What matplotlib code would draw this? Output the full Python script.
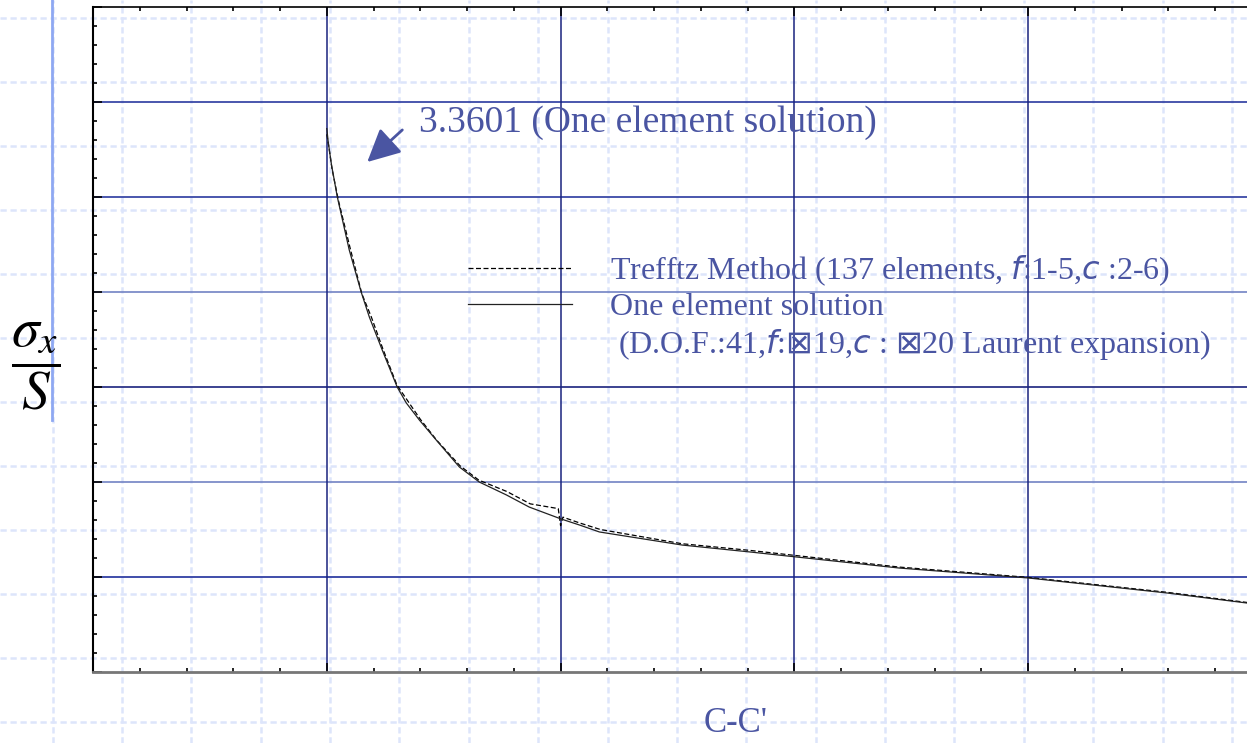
import numpy as np
import matplotlib.pyplot as plt
from matplotlib.lines import Line2D
from matplotlib.ticker import MultipleLocator

# Curve data (x along C-C', y = sigma_x / S)
x_one = [1.0, 1.006, 1.02, 1.045, 1.096, 1.147, 1.182, 1.237, 1.301, 1.34, 1.396,
         1.468, 1.567, 1.652, 1.768, 1.866, 2.003, 2.08, 2.166, 2.521, 2.808,
         3.45, 4.0, 4.593, 4.936]
y_one = [3.36, 3.29, 3.17, 3.0, 2.721, 2.5, 2.368, 2.195, 2.0, 1.916, 1.826,
         1.721, 1.579, 1.5, 1.432, 1.368, 1.305, 1.274, 1.237, 1.168, 1.132,
         1.047, 0.995, 0.916, 0.863]

x_trefftz = [1.0, 1.008, 1.022, 1.05, 1.1, 1.15, 1.19, 1.24, 1.30, 1.35, 1.40,
             1.47, 1.57, 1.65, 1.77, 1.87, 1.99, 2.0, 2.01, 2.08, 2.17, 2.52,
             2.81, 3.45, 4.0, 4.59, 4.936]
y_trefftz = [3.33, 3.27, 3.15, 2.98, 2.73, 2.49, 2.37, 2.20, 2.01, 1.92, 1.83,
             1.72, 1.585, 1.51, 1.45, 1.385, 1.36, 1.27, 1.315, 1.285, 1.25, 1.175,
             1.14, 1.052, 0.998, 0.92, 0.866]

hgrid = [1.0, 1.5, 2.0, 2.5, 3.0, 3.5]
hgrid_colors = ['#1f2f9c', '#7283c4', '#1a237e', '#7283c4', '#2a3aa0', '#2a3aa0']
vgrid = [1, 2, 3, 4]

txt_color = '#4a55a2'
serif = 'Liberation Serif'

fig = plt.figure(figsize=(12.47, 7.43), dpi=100)

# slide background: light dashed grid + blue bar on the left
bg = fig.add_axes([0, 0, 1, 1])
bg.set_xlim(0, 1247)
bg.set_ylim(743, 0)
bg.axis('off')
for xv in np.arange(52.6, 1247, 69.375):
    bg.axvline(xv, color='#dde5fb', lw=1.8, ls=(0, (2.5, 1.5)))
for yv in np.arange(18, 743, 64):
    bg.axhline(yv, color='#dde5fb', lw=1.8, ls=(0, (2.5, 1.5)))
bg.plot([52, 52], [0, 420], color='#8ea8f2', lw=2)

# main plot (right side runs past the edge of the figure)
ax = fig.add_axes([93 / 1247, 71 / 743, 1169 / 1247, 665 / 743])
ax.set_zorder(2)
ax.patch.set_visible(False)
ax.set_xlim(0, 5)
ax.set_ylim(0.5, 4.0)

for yv, c in zip(hgrid, hgrid_colors):
    ax.axhline(yv, color=c, lw=1.2, zorder=1)
for xv in vgrid:
    ax.axvline(xv, color='#1a237e', lw=1.1, zorder=1)

ax.plot(x_trefftz, y_trefftz, color='black', lw=0.9, ls=(0, (4, 2)), zorder=3,
        label='Trefftz Method (137 elements, $f$:1-5,$c$ :2-6)')
ax.plot(x_one, y_one, color='#222222', lw=0.9, zorder=3,
        label='One element solution')

ax.xaxis.set_major_locator(MultipleLocator(1))
ax.xaxis.set_minor_locator(MultipleLocator(0.2))
ax.yaxis.set_major_locator(MultipleLocator(0.5))
ax.yaxis.set_minor_locator(MultipleLocator(0.1))
ax.tick_params(which='both', direction='in', top=True, right=False,
               labelbottom=False, labelleft=False, color='black', width=1.2)
ax.tick_params(which='major', length=6.5)
ax.tick_params(which='minor', length=3)
ax.spines['left'].set_linewidth(1.5)
ax.spines['top'].set_linewidth(1.2)
ax.spines['bottom'].set_color('#777777')
ax.spines['bottom'].set_linewidth(2)

# arrow + value note
ax.annotate('', xy=(1.173, 3.184), xytext=(1.323, 3.353),
            arrowprops=dict(arrowstyle='-|>,head_length=1.0,head_width=0.5',
                            color=txt_color, lw=2, mutation_scale=20,
                            shrinkA=0, shrinkB=0))
ax.text(1.396, 3.342, '3.3601 (One element solution)', family=serif,
        fontsize=27, color=txt_color, va='baseline')

handles, labels = ax.get_legend_handles_labels()
handles.append(Line2D([], [], color='none'))
labels.append(r' (D.O.F.:41,$f$:$\boxtimes$19,$c$ : $\boxtimes$20 Laurent expansion)')
leg = ax.legend(handles, labels, loc='upper left',
                bbox_to_anchor=(468 / 1247, 1 - 253 / 743),
                bbox_transform=fig.transFigure, frameon=False,
                prop={'family': serif, 'size': 23}, labelcolor=txt_color,
                handlelength=3.25, handletextpad=1.2, labelspacing=0.16,
                borderpad=0, borderaxespad=0)
leg.set_zorder(4)

fig.text(736 / 1247, 1 - 723 / 743, "C-C'", family=serif, fontsize=25,
         color=txt_color, ha='center', va='center')
fig.text(36 / 1247, 1 - 366 / 743, r'$\dfrac{\sigma_x}{S}$', fontsize=40,
         math_fontfamily='stix', ha='center', va='center')

fig.savefig('out.png', dpi=100)
